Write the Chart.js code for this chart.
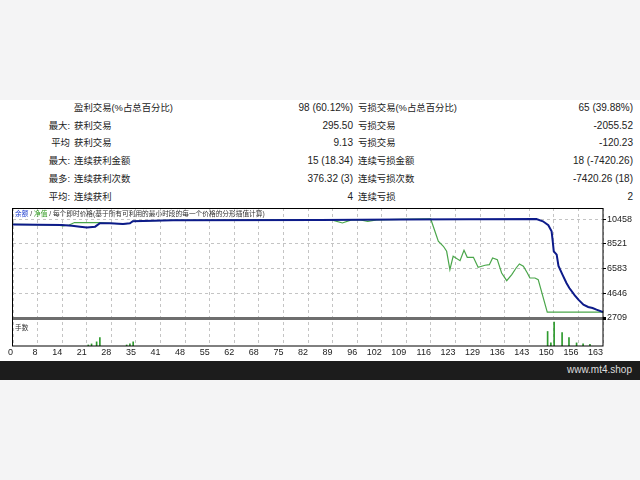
<!DOCTYPE html>
<html><head><meta charset="utf-8">
<script src="https://cdn.jsdelivr.net/npm/chart.js@4"></script>
<style>
html,body{margin:0;padding:0;width:640px;height:480px;background:#f4f4f5;overflow:hidden;font-family:"Liberation Sans","Noto Sans CJK SC",sans-serif;}
#panel{position:absolute;left:0;top:100px;width:640px;height:261px;background:#fff;}
.cell{position:absolute;font-size:10px;color:#222;white-space:nowrap;line-height:12px;}
.cell.cjk{font-size:9.4px;}
#chartBox{position:absolute;left:0;top:200px;width:640px;height:161px;}
#footer{position:absolute;left:0;top:361px;width:640px;height:19px;background:#1c1c1c;}
#footer span{position:absolute;right:8px;top:3px;color:#ddd;font-size:10px;line-height:12px;}
#ctitle{position:absolute;left:15px;top:210px;font-size:6.7px;color:#333;line-height:8px;white-space:nowrap;}
#vlabel{position:absolute;left:15px;top:324px;font-size:6.7px;color:#333;line-height:8px;}
</style></head>
<body>
<div id="panel"></div>
<div id="table"></div>
<div id="chartBox"><canvas id="c"></canvas></div>
<div id="ctitle"><span style="color:#1f3fd0">余额</span> / <span style="color:#2f9a1f">净值</span> / 每个即时价格(基于所有可利用的最小时段的每一个价格的分形插值计算)</div>
<div id="vlabel">手数</div>
<div id="footer"><span>www.mt4.shop</span></div>
<script>
// ---- table data ----
const rowPrefix   = ['', '最大:', '平均', '最大:', '最多:', '平均:'];
const leftLabel   = ['盈利交易(%占总百分比)', '获利交易', '获利交易', '连续获利金额', '连续获利次数', '连续获利'];
const leftValue   = ['98 (60.12%)', '295.50', '9.13', '15 (18.34)', '376.32 (3)', '4'];
const rightLabel  = ['亏损交易(%占总百分比)', '亏损交易', '亏损交易', '连续亏损金额', '连续亏损次数', '连续亏损'];
const rightValue  = ['65 (39.88%)', '-2055.52', '-120.23', '18 (-7420.26)', '-7420.26 (18)', '2'];

// ---- chart data ----
const xTickLabels = [0, 8, 14, 21, 28, 35, 41, 48, 55, 62, 68, 75, 82, 89, 96, 102, 109, 116, 123, 129, 136, 143, 150, 156, 163];
const yTicks = [2709, 4646, 6583, 8521, 10458];

const balanceX = [0, 13.5, 16.3, 18.5, 20.4, 22.7, 24, 26.8, 30.4, 32.3, 33.1, 35.9, 44.2, 84.8, 107, 144.6, 146.4, 147.9, 148.8, 149.1, 149.4, 150.2, 150.7, 151.8, 152.9, 153.7, 155.2, 156.2, 157.6, 158.9, 160.1, 161.2, 163];
const balanceY = [10040, 10000, 9945, 9867, 9804, 9867, 10134, 10134, 10079, 10134, 10290, 10314, 10369, 10392, 10432, 10470, 10290, 9977, 9506, 8746, 7938, 7672, 6786, 6104, 5453, 5061, 4489, 4144, 3752, 3571, 3493, 3360, 3170];

const equityX = [0, 12, 13.8, 15.5, 17, 24, 26.8, 30.4, 32.3, 33.1, 35.9, 44.2, 84.8, 88, 91, 93.5, 96, 98, 100.5, 107, 115.4, 117.5, 118.9, 119.8, 120.7, 121.6, 123.5, 124.6, 125.5, 127.2, 128.5, 130.4, 131.6, 132.5, 133.8, 135.0, 136.4, 137.8, 139.0, 139.9, 141.0, 142.1, 142.8, 144.2, 145.1, 147.6, 163];
const equityY = [10040, 10000, 9920, 10000, 10190, 10190, 10134, 10079, 10134, 10290, 10314, 10369, 10392, 10392, 10157, 10392, 10392, 10280, 10392, 10432, 10470, 8722, 8330, 7938, 6496, 7546, 7201, 8017, 7468, 7468, 6684, 6841, 6888, 7413, 7280, 6237, 5633, 6104, 6629, 6943, 6762, 6237, 5845, 5845, 5712, 3170, 3170];

const volumeX = [20.8, 21.7, 23.1, 24, 31.4, 32.3, 33.2, 147.7, 148.6, 149.5, 151.7, 153.6, 155.7, 157.5, 159.4];
const volumeY = [0.01, 0.02, 0.04, 0.08, 0.01, 0.02, 0.04, 0.14, 0.03, 0.23, 0.13, 0.08, 0.03, 0.02, 0.015];

// ---- build table ----
const tbl = document.getElementById('table');
function cell(text, style, cls){ const d=document.createElement('div'); d.className='cell' + (cls ? ' ' + cls : ''); d.textContent=text; Object.assign(d.style, style); tbl.appendChild(d); }
rowPrefix.forEach((p,i)=>{
  const top = (102 + i*17.7) + 'px';
  cell(p, {top, right:(640-70)+'px'}, 'cjk');
  cell(leftLabel[i], {top, left:'74px'}, 'cjk');
  cell(leftValue[i], {top, right:(640-353)+'px'});
  cell(rightLabel[i], {top, left:'358px'}, 'cjk');
  cell(rightValue[i], {top, right:'7px'});
});

const pts = (xs, ys) => xs.map((x,i)=>({x, y: ys[i]}));

const framePlugin = {
  id:'frame',
  afterDraw(chart){
    const {ctx, chartArea:a} = chart;
    ctx.save();
    ctx.strokeStyle = '#000'; ctx.lineWidth = 1;
    ctx.strokeRect(a.left - 0.5, a.top + 0.5, a.right - a.left + 0.5, a.bottom - a.top - 0.5);
    ctx.restore();
  }
};

new Chart(document.getElementById('c'), {
  data: {
    datasets: [
      {type:'line', data: pts(balanceX, balanceY), borderColor:'#0d1b8a', borderWidth:2, pointRadius:0, tension:0, yAxisID:'y'},
      {type:'line', data: pts(equityX, equityY), borderColor:'#4aa64a', borderWidth:1.2, pointRadius:0, tension:0, yAxisID:'y'},
      {type:'bar', data: pts(volumeX, volumeY), backgroundColor:'#2e9b2e', barThickness:1, yAxisID:'yv'}
    ]
  },
  options: {
    responsive:true, maintainAspectRatio:false, animation:false,
    layout:{padding:{left:13, top:8, right:0, bottom:0}},
    plugins:{legend:{display:false}, tooltip:{enabled:false}},
    scales:{
      x:{
        type:'linear', min:0, max:163, offset:false,
        afterBuildTicks: s => { s.ticks = xTickLabels.map((l,k)=>({value: k*163/(xTickLabels.length-1)})); },
        afterFit: s => { s.height = 15; },
        ticks:{autoSkip:false, maxRotation:0, minRotation:0, align:'end', padding:1, font:{size:9, family:'Liberation Sans'}, color:'#222', callback:(v,i)=>String(xTickLabels[i])},
        grid:{color:'#c4c4c4', drawTicks:false, lineWidth:1, offset:false},
        border:{display:false, dash:[3,3]}
      },
      y:{
        type:'linear', position:'right', stack:'s', stackWeight:110, min:2709, max:11330,
        afterBuildTicks: s => { s.ticks = yTicks.map(v=>({value:v})); },
        afterFit: s => { s.width = 37; },
        ticks:{padding:1, font:{size:9, family:'Liberation Sans'}, color:'#222', callback: v => String(v)},
        grid:{color: c => c.index===0 ? '#6e6e6e' : '#c4c4c4', lineWidth: c => c.index===0 ? 3 : 1, tickLength:3, tickColor:'#000'},
        border:{display:false, dash: c => c.index===0 ? [] : [3,3]}
      },
      yv:{
        type:'linear', position:'right', stack:'s', stackWeight:28, min:0, max:0.27,
        afterFit: s => { s.width = 37; },
        ticks:{display:false}, grid:{display:false}, border:{display:false}
      }
    }
  },
  plugins:[framePlugin]
});
</script>
</body></html>
